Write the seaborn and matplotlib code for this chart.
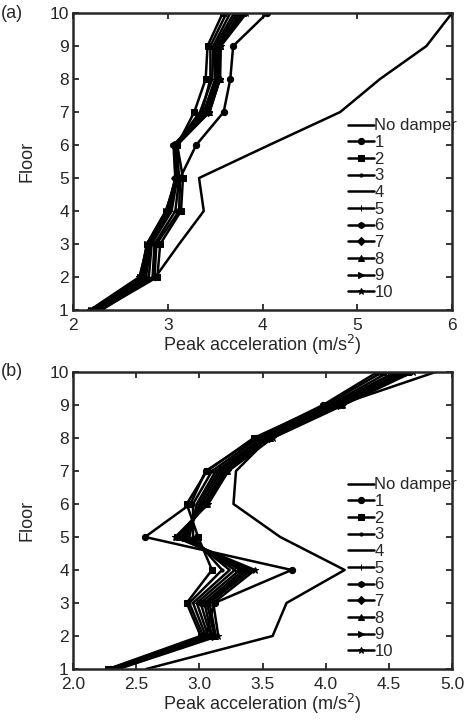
import numpy as np
import pandas as pd
import matplotlib
matplotlib.use("Agg")
import matplotlib.pyplot as plt
import seaborn as sns

# floors 1..10
floors = list(range(1, 11))
cases = ["No damper", "1", "2", "3", "4", "5", "6", "7", "8", "9", "10"]
markers = [None, "o", "s", ".", "", "+", "h", "D", "^", ">", "*"]

# (a) peak acceleration per floor (m/s^2)
acc_a = {
    "No damper": [2.25, 2.87, 3.12, 3.38, 3.33, 4.07, 4.82, 5.24, 5.73, 6.00],
    "1":  [2.30, 2.86, 2.88, 3.12, 3.13, 3.30, 3.59, 3.66, 3.69, 4.05],
    "2":  [2.29, 2.89, 2.92, 3.14, 3.16, 3.10, 3.28, 3.40, 3.42, 3.58],
    "3":  [2.27, 2.84, 2.86, 3.08, 3.12, 3.09, 3.36, 3.45, 3.45, 3.62],
    "4":  [2.25, 2.80, 2.83, 3.04, 3.10, 3.08, 3.34, 3.47, 3.48, 3.66],
    "5":  [2.24, 2.77, 2.82, 3.02, 3.09, 3.07, 3.38, 3.50, 3.50, 3.70],
    "6":  [2.22, 2.75, 2.80, 3.00, 3.08, 3.06, 3.40, 3.52, 3.52, 3.73],
    "7":  [2.21, 2.73, 2.79, 2.99, 3.08, 3.07, 3.42, 3.54, 3.54, 3.76],
    "8":  [2.20, 2.72, 2.78, 2.98, 3.09, 3.08, 3.43, 3.55, 3.55, 3.79],
    "9":  [2.19, 2.71, 2.78, 2.98, 3.10, 3.09, 3.44, 3.55, 3.55, 3.81],
    "10": [2.18, 2.70, 2.79, 2.99, 3.11, 3.10, 3.44, 3.55, 3.56, 3.83],
}

# (b)
acc_b = {
    "No damper": [2.58, 3.58, 3.69, 4.15, 3.64, 3.27, 3.29, 3.55, 4.10, 4.87],
    "1":  [2.30, 3.05, 3.12, 3.73, 2.57, 2.93, 3.05, 3.45, 3.98, 4.41],
    "2":  [2.28, 3.01, 2.90, 3.10, 2.99, 2.90, 3.06, 3.43, 4.00, 4.45],
    "3":  [2.29, 3.03, 2.92, 3.18, 2.95, 2.95, 3.10, 3.47, 4.03, 4.50],
    "4":  [2.30, 3.05, 2.95, 3.24, 2.92, 2.98, 3.13, 3.50, 4.05, 4.55],
    "5":  [2.31, 3.07, 2.98, 3.28, 2.90, 3.00, 3.15, 3.52, 4.07, 4.58],
    "6":  [2.32, 3.09, 3.01, 3.32, 2.88, 3.02, 3.17, 3.54, 4.09, 4.61],
    "7":  [2.33, 3.10, 3.04, 3.35, 2.86, 3.04, 3.19, 3.55, 4.10, 4.63],
    "8":  [2.34, 3.12, 3.06, 3.38, 2.84, 3.05, 3.21, 3.56, 4.12, 4.65],
    "9":  [2.35, 3.13, 3.08, 3.41, 2.82, 3.06, 3.22, 3.57, 4.13, 4.67],
    "10": [2.36, 3.15, 3.11, 3.44, 2.81, 3.07, 3.23, 3.58, 4.14, 4.69],
}

sns.set_style("ticks")
plt.rcParams["font.family"] = ["Liberation Sans", "DejaVu Sans"]
plt.rcParams["axes.linewidth"] = 1.8
plt.rcParams["xtick.major.width"] = 1.3
plt.rcParams["ytick.major.width"] = 1.3

fig = plt.figure(figsize=(4.69, 7.24), dpi=100)
ax_a = fig.add_axes([0.1557, 0.5718, 0.8081, 0.4102])
ax_b = fig.add_axes([0.1557, 0.0760, 0.8081, 0.4102])


def draw(ax, acc, xlim, xticks, fmt, tag):
    for case, mk in zip(cases, markers):
        df = pd.DataFrame({"floor": floors, "acc": acc[case]})
        kw = dict(marker=mk, markersize=4.5) if mk else {}
        sns.lineplot(data=df, x="acc", y="floor", orient="y", sort=False,
                     color="black", linewidth=1.8, label=case, ax=ax,
                     markeredgecolor="black", **kw)
    ax.set_xlim(*xlim)
    ax.set_ylim(1, 10)
    ax.set_xticks(xticks)
    ax.set_xticklabels([fmt.format(v) for v in xticks])
    ax.set_yticks(floors)
    ax.tick_params(direction="in", top=True, right=True, length=4,
                   labelsize=12.5)
    ax.tick_params(axis="x", pad=6)
    ax.tick_params(axis="y", pad=3)
    ax.set_xlabel("Peak acceleration (m/s$^2$)", fontsize=13, labelpad=0)
    ax.set_ylabel("Floor", fontsize=13, labelpad=10)
    ax.legend(loc="upper left", bbox_to_anchor=(0.725, 0.645), frameon=False,
              fontsize=12, handlelength=1.55, handletextpad=0.05,
              labelspacing=0.1, borderaxespad=0.0, borderpad=0.0)
    pos = ax.get_position()
    fig.text(0.002, pos.y1, tag, fontsize=13, ha="left", va="center")


draw(ax_a, acc_a, (2, 6), [2, 3, 4, 5, 6], "{:.0f}", "(a)")
draw(ax_b, acc_b, (2.0, 5.0), [2.0, 2.5, 3.0, 3.5, 4.0, 4.5, 5.0], "{:.1f}", "(b)")

fig.savefig("out.png", dpi=100)
